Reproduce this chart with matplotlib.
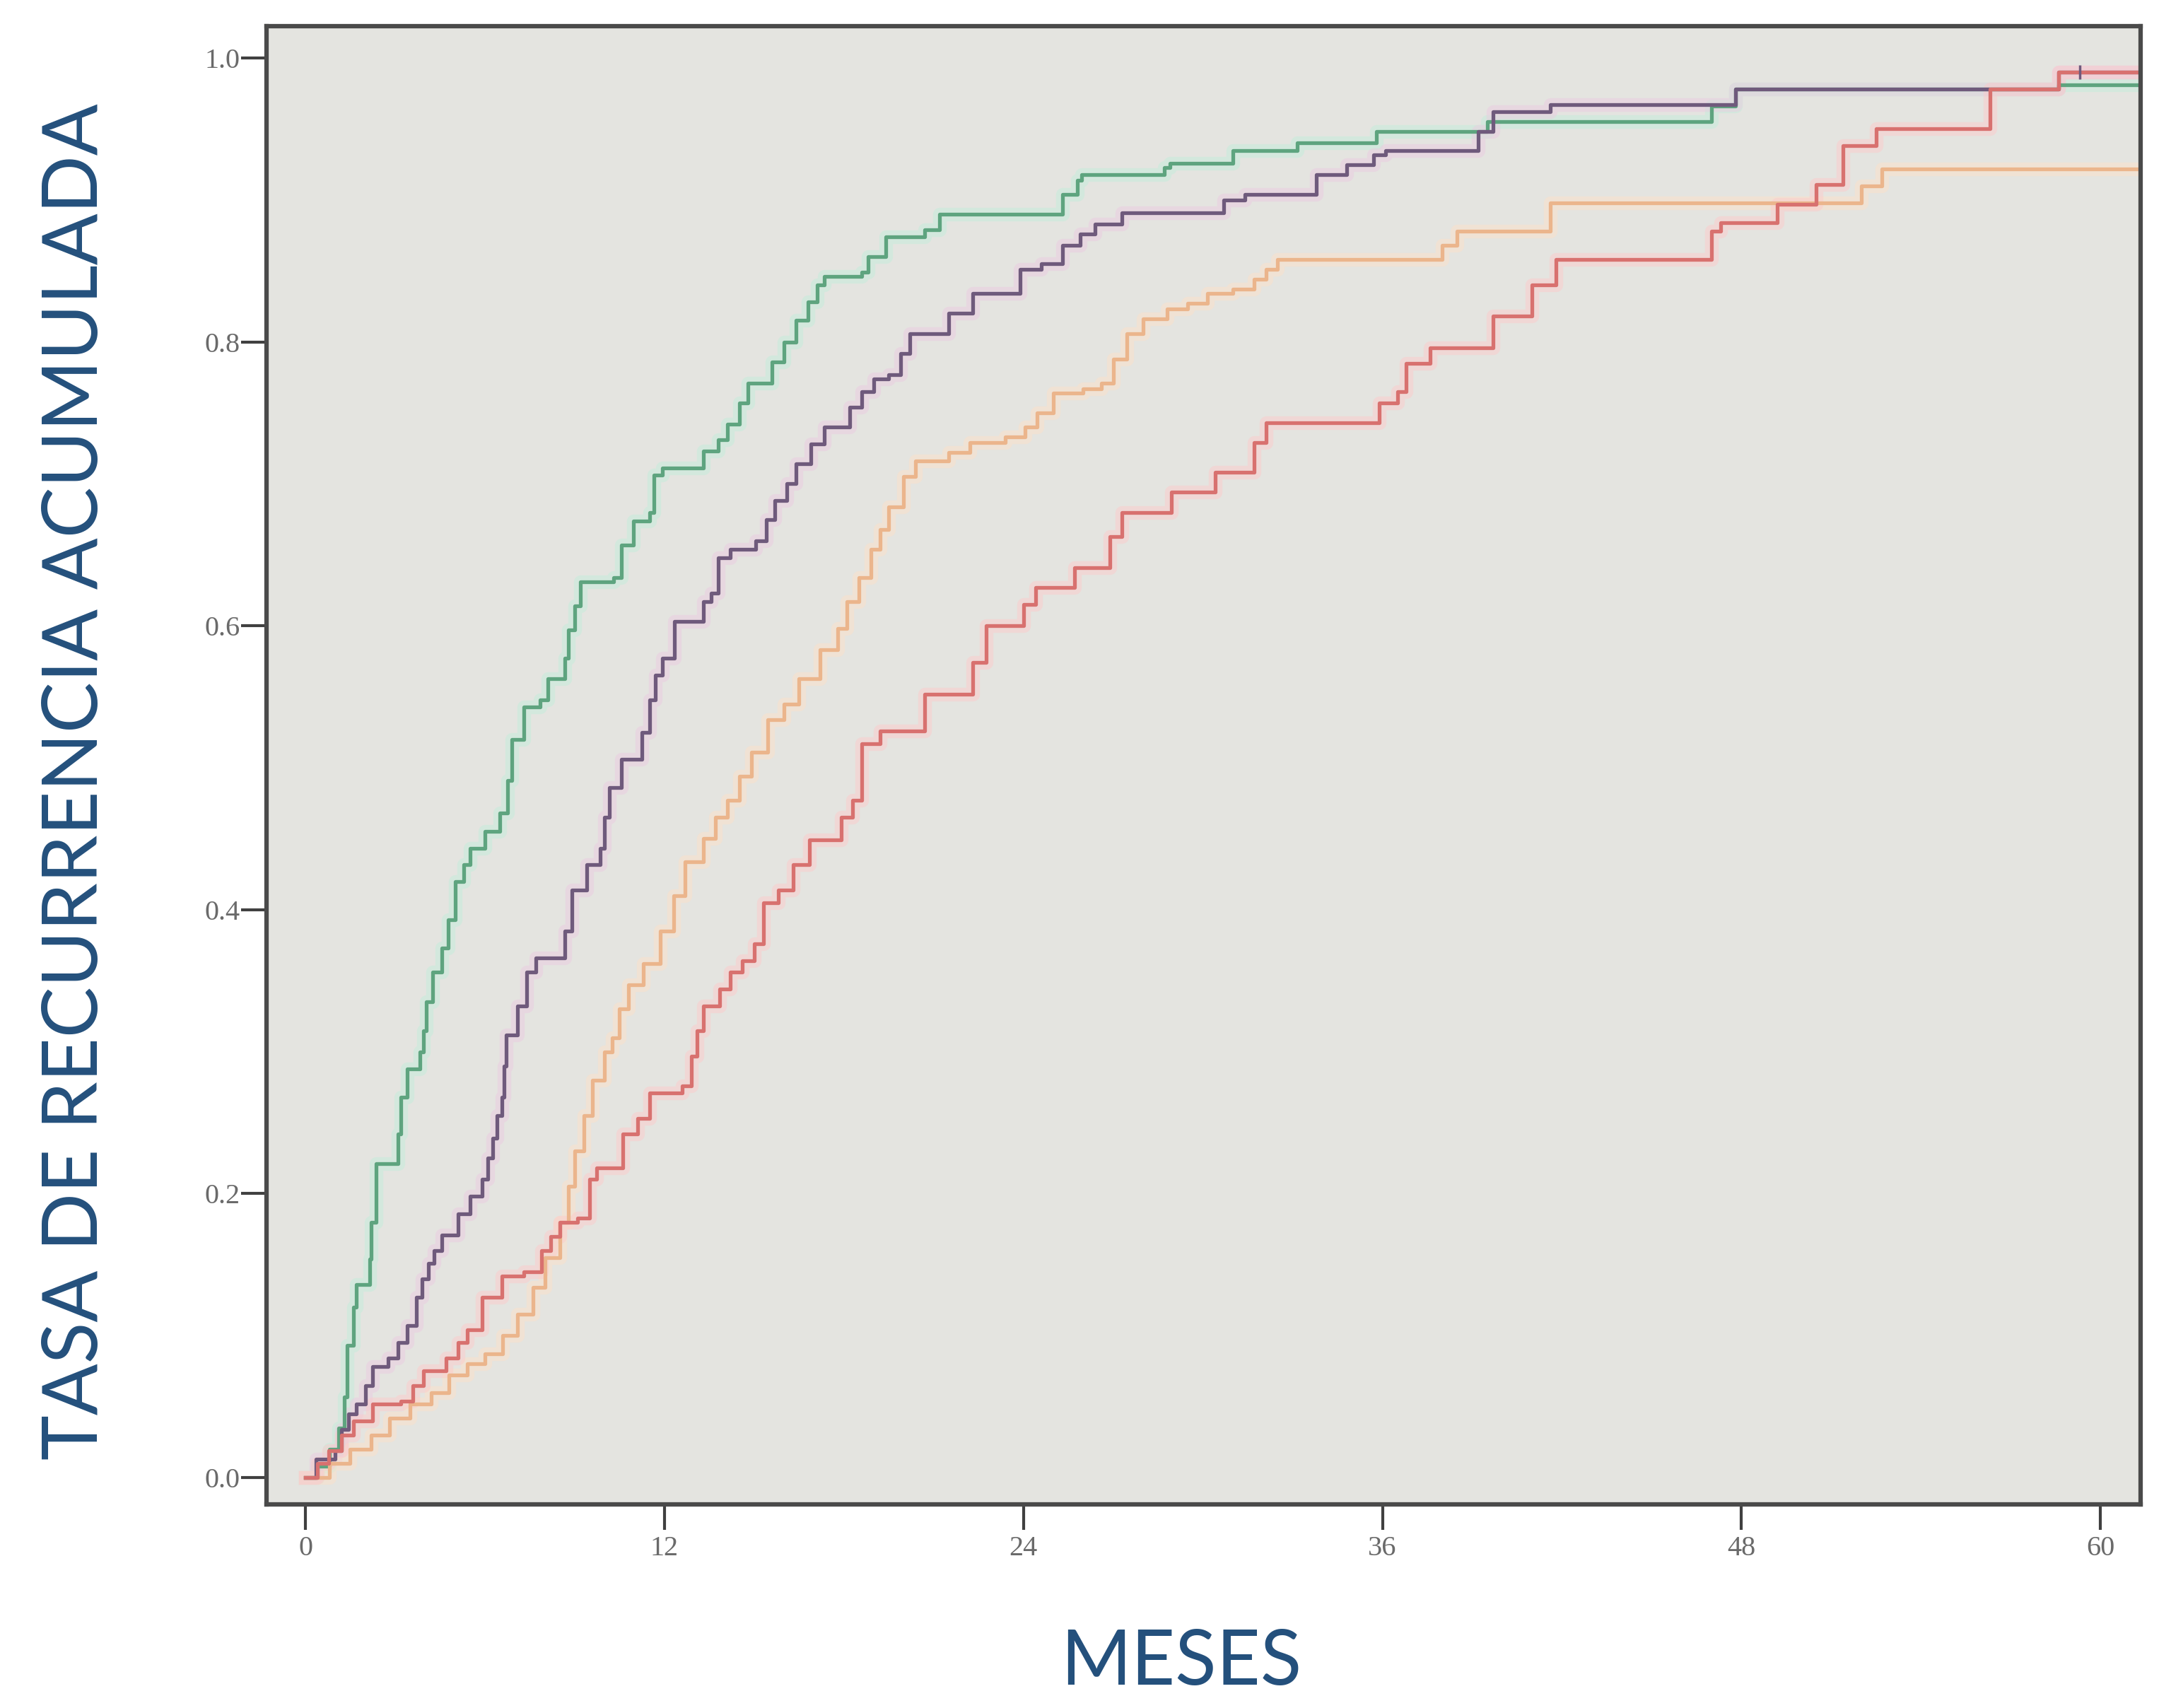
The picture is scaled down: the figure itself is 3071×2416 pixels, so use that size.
import numpy as np
import matplotlib
matplotlib.use('Agg')
import matplotlib.pyplot as plt

# cumulative recurrence curves (month of step, value after step)
green_t = [0, 0.4, 0.8, 1.1, 1.3, 1.4, 1.6, 1.7, 2.15, 2.2, 2.36, 3.1, 3.2, 3.4, 3.83, 3.95, 4.04, 4.25,
           4.56, 4.77, 5.0, 5.3, 5.5, 6.0, 6.5, 6.76, 6.9, 7.3, 7.85, 8.1, 8.67, 8.8, 9.0, 9.2, 10.3,
           10.56, 10.96, 11.5, 11.65, 11.93, 13.3, 13.8, 14.1, 14.5, 14.8, 15.6, 16.0, 16.4, 16.8, 17.1,
           17.35, 18.6, 18.8, 19.4, 20.7, 21.2, 25.3, 25.8, 25.95, 28.7, 28.9, 31.0, 33.15, 35.8, 39.5,
           47.0, 47.8, 58.6, 61.4]
green_v = [0, 0.008, 0.02, 0.035, 0.057, 0.093, 0.12, 0.136, 0.154, 0.18, 0.221, 0.242, 0.268, 0.288,
           0.30, 0.315, 0.335, 0.356, 0.373, 0.393, 0.42, 0.432, 0.443, 0.455, 0.468, 0.491, 0.52, 0.543,
           0.548, 0.563, 0.577, 0.597, 0.614, 0.631, 0.634, 0.657, 0.674, 0.68, 0.706, 0.711, 0.723,
           0.731, 0.742, 0.757, 0.771, 0.786, 0.80, 0.815, 0.828, 0.84, 0.846, 0.849, 0.86, 0.874, 0.879,
           0.89, 0.904, 0.914, 0.918, 0.923, 0.926, 0.935, 0.94, 0.948, 0.955, 0.966, 0.978, 0.981, 0.981]

purple_t = [0, 0.35, 1.0, 1.2, 1.45, 1.7, 2.0, 2.25, 2.77, 3.1, 3.4, 3.7, 3.9, 4.1, 4.3, 4.56, 5.1, 5.5,
            5.9, 6.1, 6.26, 6.4, 6.57, 6.65, 6.7, 7.09, 7.4, 7.7, 8.67, 8.9, 9.4, 9.85, 10.0, 10.16,
            10.56, 11.25, 11.5, 11.7, 11.93, 12.33, 13.3, 13.56, 13.8, 14.2, 15.05, 15.4, 15.7, 16.1,
            16.4, 16.9, 17.35, 18.2, 18.6, 19.0, 19.5, 19.9, 20.2, 21.5, 22.3, 23.9, 24.6, 25.3, 25.9,
            26.4, 27.3, 30.7, 31.4, 33.8, 34.8, 35.7, 36.1, 39.2, 39.7, 41.6, 47.8, 58.6, 61.4]
purple_v = [0, 0.013, 0.019, 0.034, 0.045, 0.052, 0.065, 0.078, 0.084, 0.095, 0.107, 0.127, 0.14, 0.151,
            0.16, 0.171, 0.186, 0.198, 0.21, 0.225, 0.239, 0.255, 0.268, 0.29, 0.312, 0.332, 0.356,
            0.366, 0.385, 0.414, 0.432, 0.443, 0.465, 0.486, 0.506, 0.525, 0.548, 0.565, 0.577, 0.603,
            0.617, 0.623, 0.648, 0.654, 0.66, 0.675, 0.688, 0.70, 0.714, 0.728, 0.74, 0.754, 0.765,
            0.774, 0.777, 0.792, 0.806, 0.82, 0.834, 0.851, 0.855, 0.868, 0.876, 0.883, 0.891, 0.90,
            0.904, 0.918, 0.925, 0.932, 0.935, 0.948, 0.962, 0.967, 0.978, 0.99, 0.99]

orange_t = [0, 0.8, 1.5, 2.2, 2.8, 3.5, 4.2, 4.8, 5.4, 6.0, 6.6, 7.1, 7.6, 8.0, 8.5, 8.8, 9.0, 9.3, 9.6,
            10.0, 10.25, 10.5, 10.8, 11.3, 11.85, 12.3, 12.7, 13.3, 13.7, 14.1, 14.5, 14.9, 15.45, 16.0,
            16.5, 17.2, 17.8, 18.1, 18.5, 18.9, 19.2, 19.5, 20.0, 20.4, 21.5, 22.2, 23.4, 24.05, 24.45,
            25.0, 26.0, 26.6, 27.0, 27.46, 28.0, 28.8, 29.5, 30.15, 31.0, 31.7, 32.1, 32.5, 38.0, 38.5,
            41.6, 52.0, 52.7, 61.4]
orange_v = [0, 0.01, 0.02, 0.03, 0.042, 0.052, 0.06, 0.072, 0.08, 0.087, 0.10, 0.115, 0.134, 0.155,
            0.18, 0.205, 0.23, 0.255, 0.28, 0.30, 0.31, 0.33, 0.347, 0.362, 0.385, 0.41, 0.434, 0.45,
            0.465, 0.477, 0.494, 0.511, 0.534, 0.545, 0.563, 0.583, 0.598, 0.617, 0.634, 0.654, 0.668,
            0.684, 0.705, 0.716, 0.722, 0.729, 0.733, 0.74, 0.75, 0.764, 0.767, 0.771, 0.788, 0.806,
            0.816, 0.823, 0.827, 0.834, 0.837, 0.844, 0.851, 0.858, 0.868, 0.878, 0.898, 0.91, 0.922, 0.922]

red_t = [0, 0.4, 0.78, 1.2, 1.6, 2.25, 3.2, 3.6, 3.95, 4.7, 5.1, 5.4, 5.9, 6.57, 7.3, 7.9, 8.2, 8.5, 9.1,
         9.5, 9.74, 10.6, 11.1, 11.5, 12.6, 12.9, 13.1, 13.3, 13.85, 14.2, 14.6, 15.0, 15.3, 15.8, 16.3,
         16.85, 17.9, 18.3, 18.6, 19.2, 20.7, 22.3, 22.75, 24.0, 24.4, 25.7, 26.9, 27.3, 28.95, 30.4,
         31.7, 32.1, 35.9, 36.5, 36.8, 37.6, 39.7, 41.0, 41.8, 47.0, 47.3, 49.2, 50.5, 51.4, 52.5, 56.3,
         58.6, 61.4]
red_v = [0, 0.01, 0.019, 0.03, 0.04, 0.052, 0.054, 0.065, 0.075, 0.084, 0.095, 0.104, 0.127, 0.142,
         0.145, 0.16, 0.17, 0.18, 0.183, 0.21, 0.218, 0.242, 0.253, 0.271, 0.276, 0.297, 0.315, 0.332,
         0.344, 0.356, 0.364, 0.376, 0.405, 0.414, 0.432, 0.449, 0.465, 0.477, 0.517, 0.526, 0.552,
         0.574, 0.60, 0.615, 0.627, 0.641, 0.663, 0.68, 0.694, 0.708, 0.729, 0.743, 0.757, 0.765, 0.785,
         0.796, 0.818, 0.84, 0.858, 0.878, 0.884, 0.897, 0.911, 0.938, 0.95, 0.978, 0.99, 0.99]

x_ticks = [0, 12, 24, 36, 48, 60]
x_ticklabels = ['0', '12', '24', '36', '48', '60']
y_ticks = [0.0, 0.2, 0.4, 0.6, 0.8, 1.0]
y_ticklabels = ['0.0', '0.2', '0.4', '0.6', '0.8', '1.0']

# (times, values, core colour, halo colour)
series = [
    (green_t, green_v, '#5ea47f', '#bfeedb'),
    (purple_t, purple_v, '#6f5a7c', '#ecc9e0'),
    (orange_t, orange_v, '#ebb58c', '#ffe0c6'),
    (red_t, red_v, '#d8716f', '#ffc8c8'),
]

W, H = 3071, 2416
fig = plt.figure(figsize=(W / 100, H / 100), dpi=100)
fig.patch.set_facecolor('white')
ax = fig.add_axes([377 / W, 1 - 2128 / H, (3028 - 377) / W, (2128 - 37) / H])
ax.set_facecolor('#e4e4e0')

for t, v, c, hc in series:
    # soft blurred halo like the original low-res picture
    ax.plot(t, v, drawstyle='steps-post', color=hc, linewidth=14, alpha=0.45)
for t, v, c, hc in series:
    ax.plot(t, v, drawstyle='steps-post', color=c, linewidth=3.8)

# censor mark near the end
ax.plot([59.3], [0.99], marker='|', markersize=14, mew=2.5, color='#6f5a7c')

ax.set_xlim(-1.3, 61.34)
ax.set_ylim(-0.0189, 1.0224)
ax.set_xticks(x_ticks)
ax.set_xticklabels(x_ticklabels)
ax.set_yticks(y_ticks)
ax.set_yticklabels(y_ticklabels)

for s in ax.spines.values():
    s.set_color('#4a4a4a')
    s.set_linewidth(4.5)
ax.tick_params(direction='out', length=26, width=3, color='#404040',
               labelsize=29, labelcolor='#6a6a6a')
ax.tick_params(axis='y', pad=1)
ax.tick_params(axis='x', pad=6)
for lab in ax.get_xticklabels() + ax.get_yticklabels():
    lab.set_family('Liberation Serif')

blue = '#24507c'
ylab = fig.text(108 / W, 1 - 1106 / H, 'TASA DE RECURRENCIA ACUMULADA', rotation=90,
                ha='center', va='center', color=blue, family='Lato', fontsize=80)
xlab = fig.text(1671 / W, 1 - 2352 / H, 'MESES', ha='center', va='center',
                color=blue, family='Lato', fontsize=80)

# scale label font sizes so their lengths match the picture
renderer = fig.canvas.get_renderer()
bb = ylab.get_window_extent(renderer)
ylab.set_fontsize(80 * 1919 / bb.height)
bb = xlab.get_window_extent(renderer)
xlab.set_fontsize(80 * 341 / bb.width)

fig.savefig('out.png', dpi=100, facecolor='white')
